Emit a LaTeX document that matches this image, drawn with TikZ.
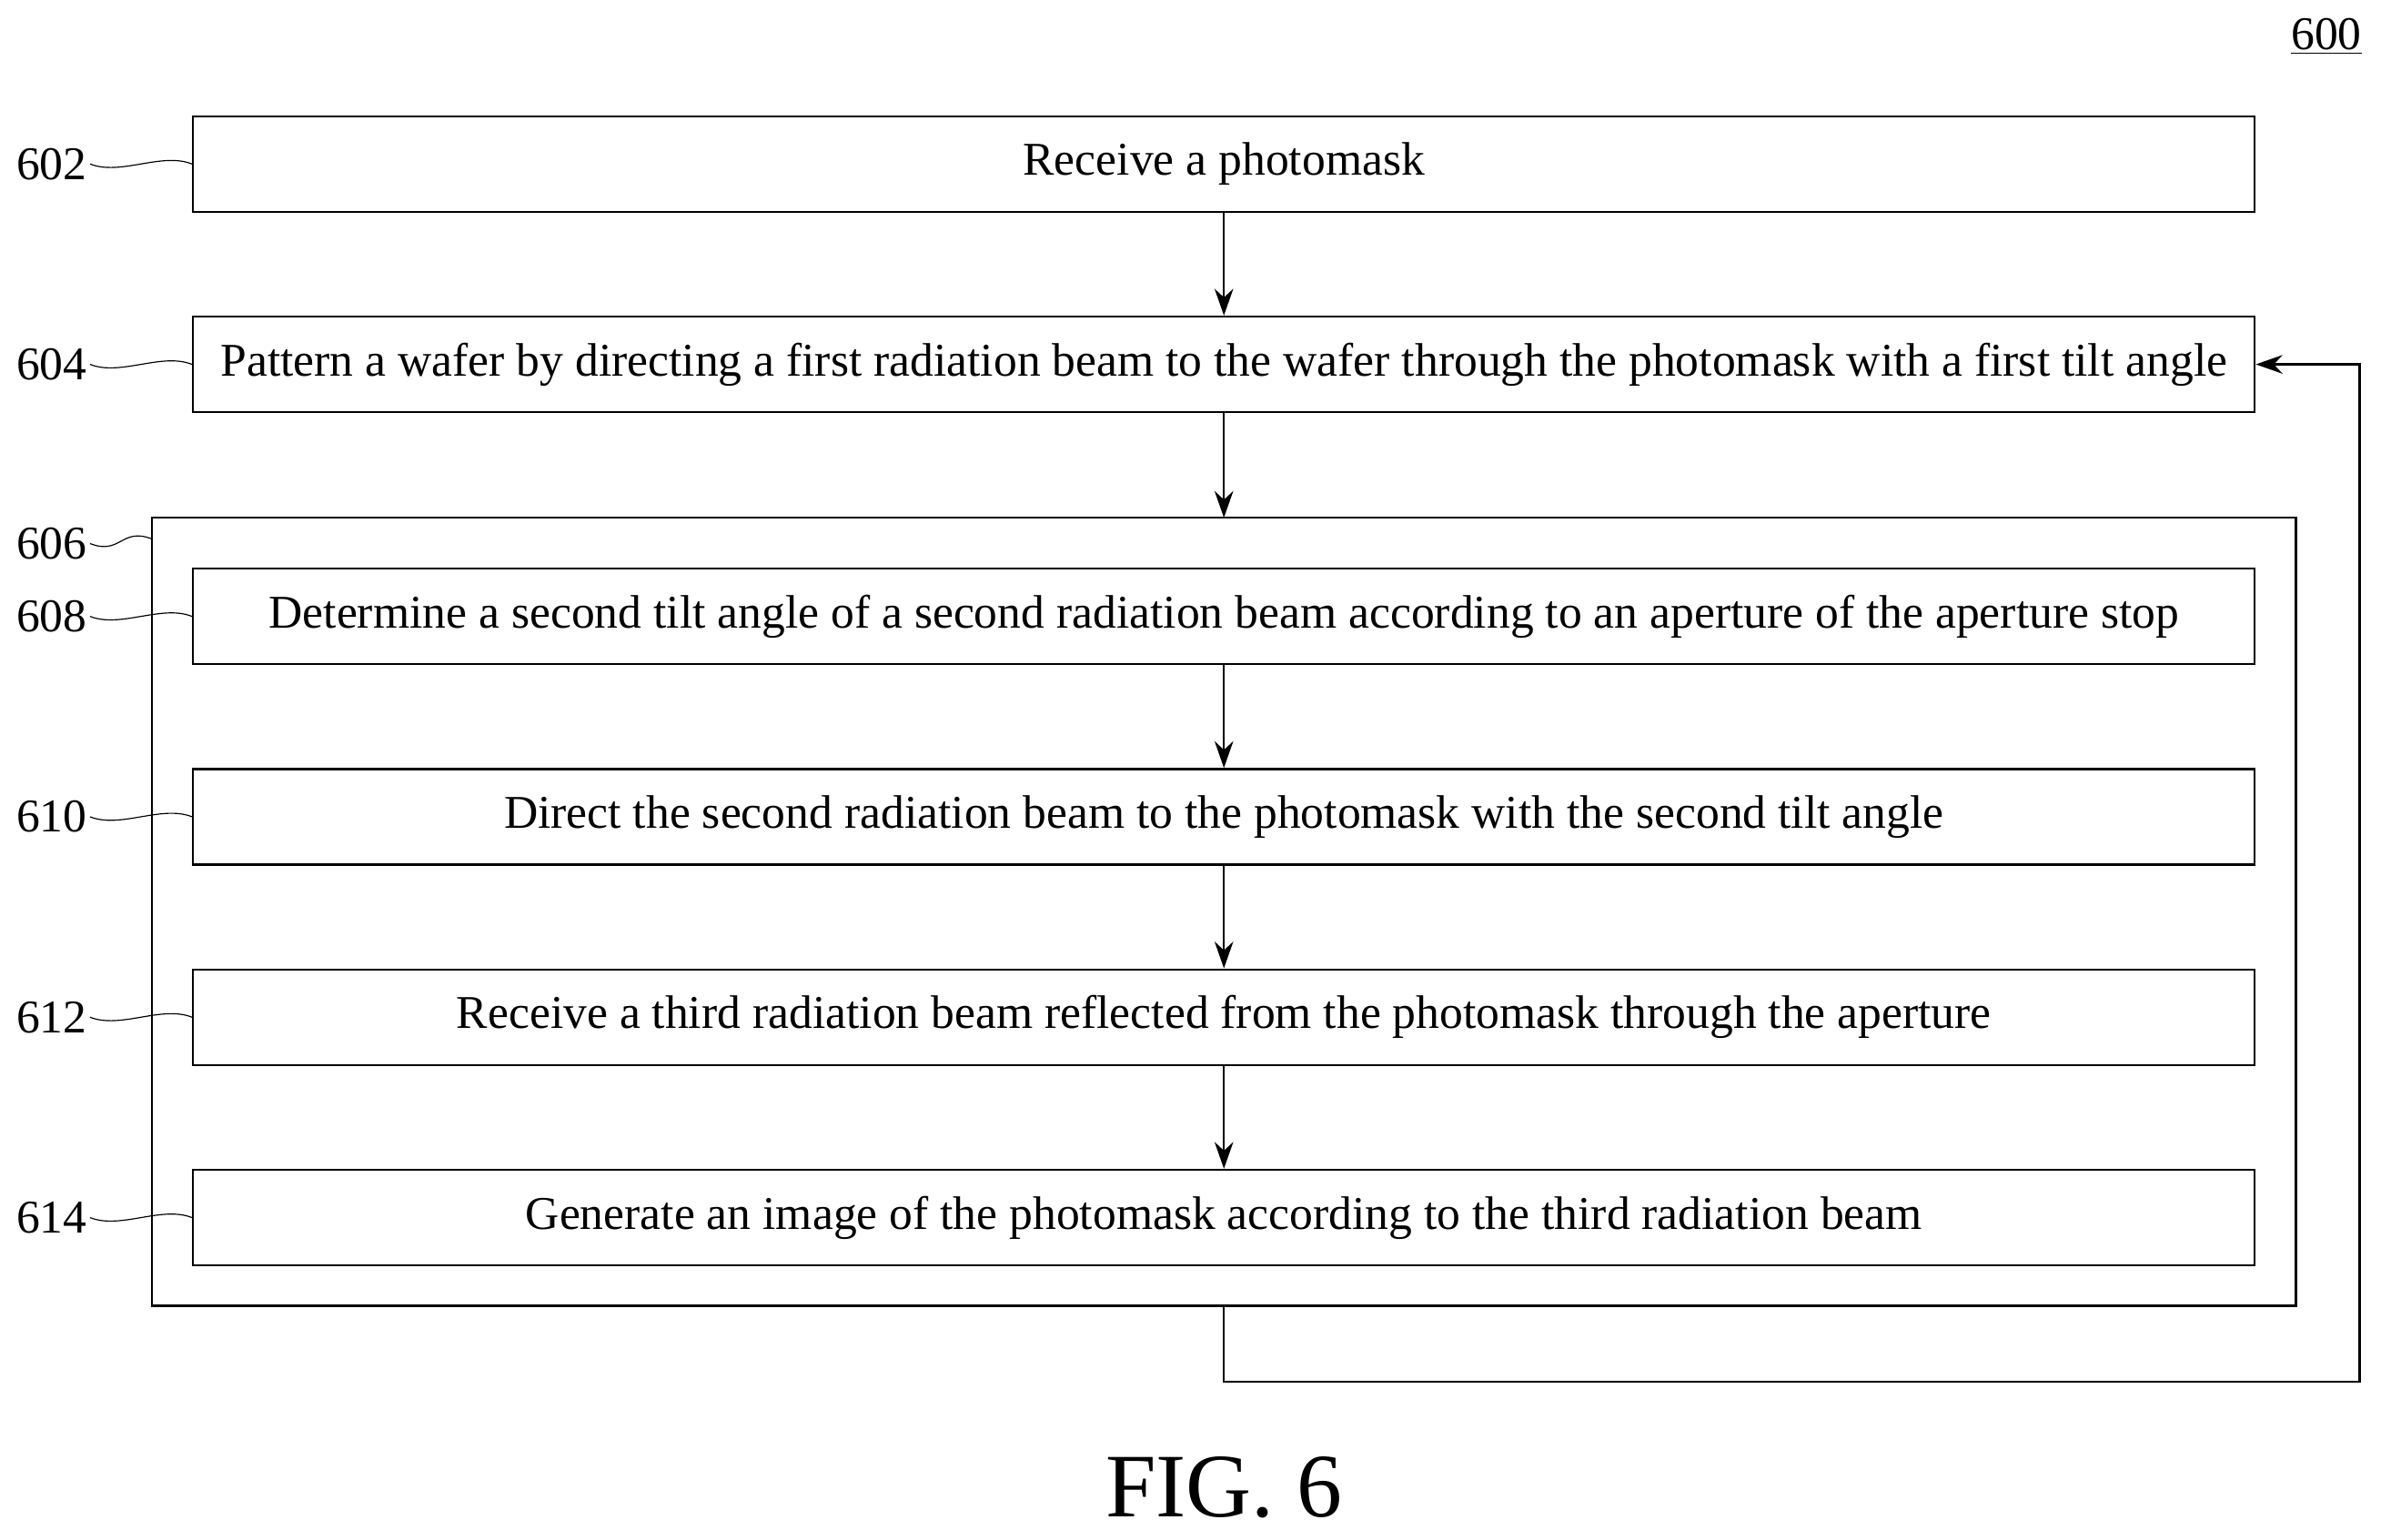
\documentclass[tikz,border=0pt]{standalone}
\usepackage{fontspec}
\setmainfont{Liberation Serif}
\usetikzlibrary{positioning,arrows.meta}
\tikzset{
  stepbox/.style={draw,thick,minimum width=27.16cm,minimum height=1.26cm,inner sep=0pt,font=\fontsize{17.6}{20}\selectfont},
  lbl/.style={font=\fontsize{17.6}{20}\selectfont,inner sep=1pt},
  lead/.style={thin},
}
\newcommand{\leader}[2]{\draw[lead] (#1.east) .. controls +(20,8) and +(-20,-8) .. (#2);}
\begin{document}
\begin{tikzpicture}[x=0.02cm,y=-0.02cm,>={Stealth[length=10pt,width=7pt]}]
  \useasboundingbox (0,0) rectangle (1568,1014);
  \node[stepbox] (s602) at (806,108) {Receive a photomask};
  \node[stepbox] (s604) at (806,240) {Pattern a wafer by directing a first radiation beam to the wafer through the photomask with a first tilt angle};
  \draw[thick] (100,341) rectangle (1512,860);
  \coordinate (g606) at (100,355);
  \coordinate (gtop) at (806,341);
  \coordinate (gbot) at (806,860);
  \node[stepbox] (s608) at (806,406) {Determine a second tilt angle of a second radiation beam according to an aperture of the aperture stop};
  \node[stepbox] (s610) at (806,538) {Direct the second radiation beam to the photomask with the second tilt angle};
  \node[stepbox] (s612) at (806,670) {Receive a third radiation beam reflected from the photomask through the aperture};
  \node[stepbox] (s614) at (806,802) {Generate an image of the photomask according to the third radiation beam};
  % arrows
  \draw[thick,->] (s602) -- (s604);
  \draw[thick,->] (s604) -- (gtop);
  \draw[thick,->] (s608) -- (s610);
  \draw[thick,->] (s610) -- (s612);
  \draw[thick,->] (s612) -- (s614);
  \coordinate (back) at (1554,910);
  \draw[thick,->] (gbot) -- (806,910) -- (back) -- (1554,240) -- (s604.east);
  % labels
  \node[lbl] (l602) at (34,108) {602}; \leader{l602}{s602.west}
  \node[lbl] (l604) at (34,240) {604}; \leader{l604}{s604.west}
  \node[lbl] (l606) at (34,358) {606}; \leader{l606}{g606}
  \node[lbl] (l608) at (34,406) {608}; \leader{l608}{s608.west}
  \node[lbl] (l610) at (34,538) {610}; \leader{l610}{s610.west}
  \node[lbl] (l612) at (34,670) {612}; \leader{l612}{s612.west}
  \node[lbl] (l614) at (34,802) {614}; \leader{l614}{s614.west}
  \node[lbl] (l600) at (1532,24) {\underline{600}};
  \node[font=\fontsize{34}{38}\selectfont] (fig) at (806,980) {FIG. 6};
\end{tikzpicture}
\end{document}
